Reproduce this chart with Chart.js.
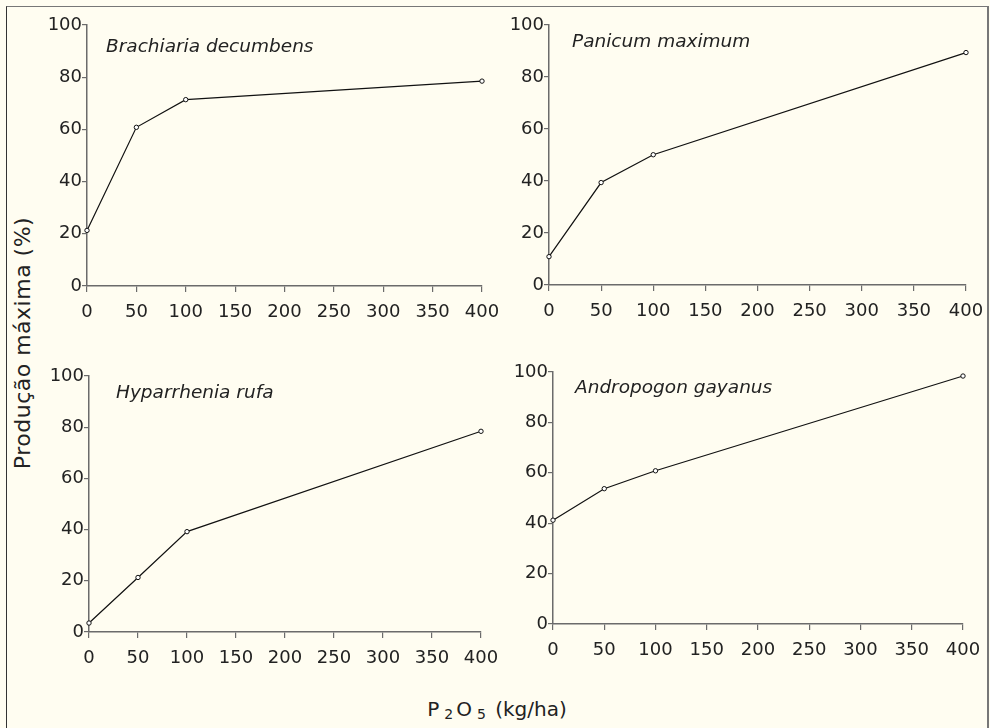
<!DOCTYPE html>
<html>
<head>
<meta charset="utf-8">
<script src="https://cdn.jsdelivr.net/npm/chart.js@4.4.1/dist/chart.umd.min.js"></script>
<style>
  html, body { margin: 0; padding: 0; background: #fffdf1; }
  #page {
    position: relative; width: 990px; height: 728px; overflow: hidden;
    background: #fffdf1; font-family: "DejaVu Sans", sans-serif; color: #222;
  }
  #frame {
    position: absolute; left: 6px; top: 6px; width: 983px; height: 740px;
    border-left: 1.5px solid #333; border-top: 1.5px solid #777; border-right: 2px solid #777;
    box-sizing: border-box;
  }
  .panel { position: absolute; }
  .panel canvas { display: block; }
  #ytitle {
    position: absolute; left: 22px; top: 343px; font-size: 22px; letter-spacing: 0.5px; white-space: nowrap;
    transform: translate(-50%, -50%) rotate(-90deg);
  }
  #xtitle {
    position: absolute; left: 497px; top: 709px; font-size: 20px; white-space: nowrap;
    transform: translate(-50%, -50%);
  }
  #xtitle sub { font-size: 14px; vertical-align: -3px; margin: 0 3px 0 5px; }
</style>
</head>
<body>
<div id="page">
  <div id="frame"></div>
  <div id="ytitle">Produção máxima (%)</div>
  <div id="xtitle">P<sub>2</sub>O<sub>5</sub> (kg/ha)</div>
</div>
<script>
// doses of P2O5 (kg/ha) and relative yield for each grass
const doses = [0, 50, 100, 400];
const species = ['Brachiaria decumbens', 'Panicum maximum', 'Hyparrhenia rufa', 'Andropogon gayanus'];
const brachiaria = [21.3, 60.8, 71.4, 78.5];
const panicum = [10.9, 39.4, 50.1, 89.4];
const hyparrhenia = [3.5, 21.3, 39.2, 78.4];
const andropogon = [41.2, 53.7, 60.8, 98.4];
const xTicks = [0, 50, 100, 150, 200, 250, 300, 350, 400];
const yTicks = [0, 20, 40, 60, 80, 100];

const seriesList = [brachiaria, panicum, hyparrhenia, andropogon];

// plot area of each panel on the page: left, top, right, bottom
const areas = [
  [87, 25, 482, 286],
  [549, 25, 966, 285],
  [89, 376, 481, 632],
  [553, 372, 963, 624]
];
// where the species name sits, measured from the plot's top-left corner
const labelOffsets = [[19, 22], [23, 17], [27, 17], [22, 16]];

const Y_W = 56, X_H = 46, PAD_T = 14, PAD_R = 34;
const axisGrey = '#6b6b6b';
const tickFont = { family: 'DejaVu Sans', size: 18 };

// species name written inside the top-left of the plot
const speciesLabel = {
  id: 'speciesLabel',
  afterDraw(chart, args, opts) {
    const ctx = chart.ctx;
    const a = chart.chartArea;
    ctx.save();
    ctx.font = 'italic 18.5px "DejaVu Sans"';
    ctx.fillStyle = '#222';
    ctx.textBaseline = 'middle';
    ctx.fillText(opts.text, a.left + opts.dx, a.top + opts.dy);
    ctx.restore();
  }
};

const page = document.getElementById('page');

seriesList.forEach((vals, i) => {
  const [l, t, r, b] = areas[i];
  const w = (r - l) + Y_W + PAD_R;
  const h = (b - t) + PAD_T + X_H;

  const box = document.createElement('div');
  box.className = 'panel';
  box.style.left = (l - Y_W) + 'px';
  box.style.top = (t - PAD_T) + 'px';
  const cv = document.createElement('canvas');
  cv.width = w;
  cv.height = h;
  cv.style.width = w + 'px';
  cv.style.height = h + 'px';
  box.appendChild(cv);
  page.appendChild(box);

  new Chart(cv, {
    type: 'line',
    data: {
      datasets: [{
        label: species[i],
        data: doses.map((d, k) => ({ x: d, y: vals[k] })),
        borderColor: '#111',
        borderWidth: 1.2,
        pointRadius: 2.2,
        pointBorderWidth: 1,
        pointBackgroundColor: '#fff',
        pointBorderColor: '#111',
        tension: 0,
        clip: false
      }]
    },
    options: {
      responsive: false,
      animation: false,
      devicePixelRatio: 1,
      layout: { padding: { left: 0, top: PAD_T, right: PAD_R, bottom: 0 } },
      plugins: {
        legend: { display: false },
        tooltip: { enabled: false },
        speciesLabel: { text: species[i], dx: labelOffsets[i][0], dy: labelOffsets[i][1] }
      },
      scales: {
        x: {
          type: 'linear',
          min: 0, max: 400,
          afterBuildTicks: s => { s.ticks = xTicks.map(v => ({ value: v })); },
          afterFit: s => { s.height = X_H; },
          border: { display: true, color: axisGrey, width: 1.5 },
          grid: { drawOnChartArea: false, drawTicks: true, tickLength: 6, color: axisGrey, lineWidth: 1.2 },
          ticks: { color: '#222', font: tickFont, padding: 10, maxRotation: 0, autoSkip: false }
        },
        y: {
          type: 'linear',
          min: 0, max: 100,
          afterBuildTicks: s => { s.ticks = yTicks.map(v => ({ value: v })); },
          afterFit: s => { s.width = Y_W; },
          border: { display: true, color: axisGrey, width: 1.5 },
          grid: { drawOnChartArea: false, drawTicks: true, tickLength: 5, color: axisGrey, lineWidth: 1.2 },
          ticks: { color: '#222', font: tickFont, padding: 0, autoSkip: false }
        }
      }
    },
    plugins: [speciesLabel]
  });
});
</script>
</body>
</html>
